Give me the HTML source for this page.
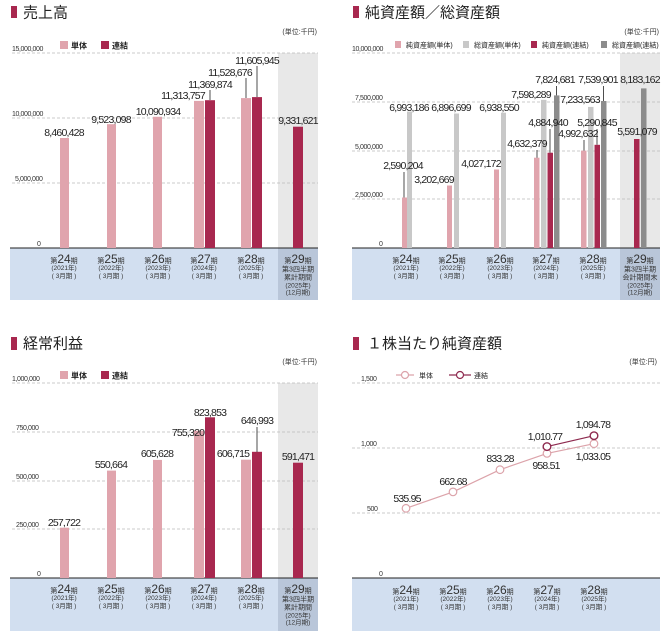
<!DOCTYPE html>
<html><head><meta charset="utf-8"><style>
html,body{margin:0;padding:0;background:#fff;}
svg{display:block;font-family:"Liberation Sans","Noto Sans CJK JP",sans-serif;}
.ax{font-size:7px;fill:#333;letter-spacing:-0.4px}
.v{font-size:10.5px;fill:#222;letter-spacing:-0.8px;text-anchor:middle}
.t{font-size:15px;fill:#222;font-weight:normal}
.u{font-size:7px;fill:#333;text-anchor:end}
.lg{font-size:8px;fill:#222;font-weight:bold}
.lg2{font-size:7px;fill:#222}
.c{text-anchor:middle;fill:#333}
.g{stroke:#bbb;stroke-width:0.8;stroke-dasharray:3,2}
.ld{stroke:#222;stroke-width:0.8}
</style></head><body>
<svg width="668" height="643" viewBox="0 0 668 643">

<!-- ===== Panel 1 ===== -->
<rect x="11" y="6" width="6" height="12" fill="#a8284f"/>
<text x="23" y="17.5" class="t">売上高</text>
<text x="317" y="34" class="u">(単位:千円)</text>
<rect x="60" y="41" width="8" height="8" fill="#e0a4ad"/><text x="71" y="48.5" class="lg">単体</text>
<rect x="101" y="41" width="8" height="8" fill="#a8284f"/><text x="112" y="48.5" class="lg">連結</text>
<rect x="278" y="53" width="40" height="195" fill="#e8e8e8"/>
<line x1="12" y1="53" x2="318" y2="53" class="g"/>
<line x1="12" y1="118" x2="318" y2="118" class="g"/>
<line x1="12" y1="183" x2="318" y2="183" class="g"/>
<text x="12" y="51" class="ax">15,000,000</text>
<text x="12" y="116" class="ax">10,000,000</text>
<text x="15" y="181" class="ax">5,000,000</text>
<text x="37" y="246" class="ax">0</text>
<rect x="10" y="248" width="268" height="52" fill="#d2dff0"/>
<rect x="278" y="248" width="40" height="52" fill="#b9c6d9"/>
<line x1="10" y1="248" x2="318" y2="248" stroke="#222" stroke-width="1"/>
<rect x="60" y="138" width="9" height="110" fill="#e0a4ad"/>
<rect x="107" y="124.2" width="9" height="123.8" fill="#e0a4ad"/>
<rect x="153" y="116.8" width="9" height="131.2" fill="#e0a4ad"/>
<rect x="194" y="100.9" width="10" height="147.1" fill="#e0a4ad"/>
<rect x="205" y="100.2" width="10" height="147.8" fill="#a8284f"/>
<rect x="241" y="98.1" width="10" height="149.9" fill="#e0a4ad"/>
<rect x="252" y="97.1" width="10" height="150.9" fill="#a8284f"/>
<rect x="293" y="126.7" width="10" height="121.3" fill="#a8284f"/>
<line x1="210" y1="90" x2="210" y2="100" class="ld"/>
<line x1="246" y1="78" x2="246" y2="98" class="ld"/>
<line x1="257" y1="66" x2="257" y2="97" class="ld"/>
<text x="64" y="136" class="v">8,460,428</text>
<text x="111" y="123" class="v">9,523,098</text>
<text x="158" y="115" class="v">10,090,934</text>
<text x="183" y="99" class="v">11,313,757</text>
<text x="210" y="88" class="v">11,369,874</text>
<text x="230" y="76" class="v">11,528,676</text>
<text x="257" y="64" class="v">11,605,945</text>
<text x="298" y="124" class="v">9,331,621</text>

<!-- ===== Panel 2 ===== -->
<rect x="353" y="6" width="6" height="12" fill="#a8284f"/>
<text x="365" y="17.5" class="t">純資産額／総資産額</text>
<text x="659" y="34" class="u">(単位:千円)</text>
<rect x="395" y="41" width="6" height="7" fill="#e0a4ad"/><text x="406" y="47.5" class="lg2">純資産額(単体)</text>
<rect x="463" y="41" width="6" height="7" fill="#c8c8c8"/><text x="474" y="47.5" class="lg2">総資産額(単体)</text>
<rect x="531" y="41" width="6" height="7" fill="#a8284f"/><text x="542" y="47.5" class="lg2">純資産額(連結)</text>
<rect x="601" y="41" width="6" height="7" fill="#8c8c8c"/><text x="612" y="47.5" class="lg2">総資産額(連結)</text>
<rect x="620" y="53" width="40" height="195" fill="#e8e8e8"/>
<line x1="352" y1="53" x2="660" y2="53" class="g"/>
<line x1="352" y1="102" x2="660" y2="102" class="g"/>
<line x1="352" y1="151" x2="660" y2="151" class="g"/>
<line x1="352" y1="199" x2="660" y2="199" class="g"/>
<text x="352" y="51" class="ax">10,000,000</text>
<text x="355" y="100" class="ax">7,500,000</text>
<text x="355" y="149" class="ax">5,000,000</text>
<text x="355" y="197" class="ax">2,500,000</text>
<text x="379" y="246" class="ax">0</text>
<rect x="352" y="248" width="268" height="52" fill="#d2dff0"/>
<rect x="620" y="248" width="40" height="52" fill="#b9c6d9"/>
<line x1="352" y1="248" x2="660" y2="248" stroke="#222" stroke-width="1"/>
<rect x="402" y="197.5" width="5" height="50.5" fill="#e0a4ad"/>
<rect x="407" y="111.6" width="5" height="136.4" fill="#c8c8c8"/>
<rect x="447" y="185.5" width="5" height="62.5" fill="#e0a4ad"/>
<rect x="454" y="113.5" width="5" height="134.5" fill="#c8c8c8"/>
<rect x="494" y="169.5" width="5" height="78.5" fill="#e0a4ad"/>
<rect x="501" y="112.7" width="5" height="135.3" fill="#c8c8c8"/>
<rect x="534" y="157.7" width="5.5" height="90.3" fill="#e0a4ad"/>
<rect x="541" y="99.8" width="5.5" height="148.2" fill="#c8c8c8"/>
<rect x="547.5" y="152.7" width="5.5" height="95.3" fill="#a8284f"/>
<rect x="554" y="95.4" width="5.5" height="152.6" fill="#8c8c8c"/>
<rect x="581" y="150.6" width="5.5" height="97.4" fill="#e0a4ad"/>
<rect x="588" y="106.9" width="5.5" height="141.1" fill="#c8c8c8"/>
<rect x="594.5" y="144.8" width="5.5" height="103.2" fill="#a8284f"/>
<rect x="601" y="101" width="5.5" height="147" fill="#8c8c8c"/>
<rect x="634" y="139" width="5.5" height="109" fill="#a8284f"/>
<rect x="641" y="88.4" width="5.5" height="159.6" fill="#8c8c8c"/>
<line x1="404" y1="172" x2="404" y2="197.5" class="ld"/>
<line x1="556.5" y1="86" x2="556.5" y2="95.4" class="ld"/>
<line x1="550" y1="129" x2="550" y2="152.7" class="ld"/>
<line x1="537" y1="150" x2="537" y2="157.7" class="ld"/>
<line x1="603.5" y1="86" x2="603.5" y2="101" class="ld"/>
<line x1="597" y1="129" x2="597" y2="144.8" class="ld"/>
<line x1="584" y1="140" x2="584" y2="150.6" class="ld"/>
<text x="409" y="111" class="v">6,993,186</text>
<text x="403" y="169" class="v">2,590,204</text>
<text x="451" y="111" class="v">6,896,699</text>
<text x="434" y="183" class="v">3,202,669</text>
<text x="499" y="111" class="v">6,938,550</text>
<text x="481" y="167" class="v">4,027,172</text>
<text x="531" y="98" class="v">7,598,289</text>
<text x="555" y="83" class="v">7,824,681</text>
<text x="548" y="126" class="v">4,884,940</text>
<text x="527" y="147" class="v">4,632,379</text>
<text x="598" y="83" class="v">7,539,901</text>
<text x="580" y="103" class="v">7,233,563</text>
<text x="597" y="126" class="v">5,290,845</text>
<text x="578" y="137" class="v">4,992,632</text>
<text x="640" y="83" class="v">8,183,162</text>
<text x="637" y="135" class="v">5,591,079</text>

<!-- ===== Panel 3 ===== -->
<rect x="11" y="337" width="6" height="13" fill="#a8284f"/>
<text x="23" y="348.5" class="t">経常利益</text>
<text x="317" y="364" class="u">(単位:千円)</text>
<rect x="60" y="371" width="8" height="8" fill="#e0a4ad"/><text x="71" y="378.5" class="lg">単体</text>
<rect x="101" y="371" width="8" height="8" fill="#a8284f"/><text x="112" y="378.5" class="lg">連結</text>
<rect x="278" y="383" width="40" height="195" fill="#e8e8e8"/>
<line x1="12" y1="383" x2="318" y2="383" class="g"/>
<line x1="12" y1="432" x2="318" y2="432" class="g"/>
<line x1="12" y1="481" x2="318" y2="481" class="g"/>
<line x1="12" y1="529" x2="318" y2="529" class="g"/>
<text x="12" y="381" class="ax">1,000,000</text>
<text x="16" y="430" class="ax">750,000</text>
<text x="16" y="479" class="ax">500,000</text>
<text x="16" y="527" class="ax">250,000</text>
<text x="37" y="576" class="ax">0</text>
<rect x="10" y="578" width="268" height="53" fill="#d2dff0"/>
<rect x="278" y="578" width="40" height="53" fill="#b9c6d9"/>
<line x1="10" y1="578" x2="318" y2="578" stroke="#222" stroke-width="1"/>
<rect x="60" y="527.7" width="9" height="50.3" fill="#e0a4ad"/>
<rect x="107" y="470.6" width="9" height="107.4" fill="#e0a4ad"/>
<rect x="153" y="459.9" width="9" height="118.1" fill="#e0a4ad"/>
<rect x="194" y="430.7" width="10" height="147.3" fill="#e0a4ad"/>
<rect x="205" y="417.3" width="10" height="160.7" fill="#a8284f"/>
<rect x="241" y="459.7" width="10" height="118.3" fill="#e0a4ad"/>
<rect x="252" y="451.8" width="10" height="126.2" fill="#a8284f"/>
<rect x="293" y="462.7" width="10" height="115.3" fill="#a8284f"/>
<line x1="257" y1="427" x2="257" y2="452" class="ld"/>
<text x="64" y="526" class="v">257,722</text>
<text x="111" y="468" class="v">550,664</text>
<text x="157" y="457" class="v">605,628</text>
<text x="188" y="436" class="v">755,320</text>
<text x="210" y="416" class="v">823,853</text>
<text x="233" y="457" class="v">606,715</text>
<text x="257" y="424" class="v">646,993</text>
<text x="298" y="460" class="v">591,471</text>

<!-- ===== Panel 4 ===== -->
<rect x="353" y="337" width="6" height="13" fill="#a8284f"/>
<text x="367" y="348.5" class="t">１株当たり純資産額</text>
<text x="657" y="364" class="u">(単位:円)</text>
<line x1="396" y1="375" x2="414" y2="375" stroke="#dca3aa" stroke-width="1.2"/>
<circle cx="405" cy="375" r="3.5" fill="#fff" stroke="#dca3aa" stroke-width="1.2"/>
<text x="419" y="378" class="lg2" font-size="8">単体</text>
<line x1="449" y1="375" x2="471" y2="375" stroke="#8e2a4f" stroke-width="1.2"/>
<circle cx="460" cy="375" r="3.5" fill="#fff" stroke="#8e2a4f" stroke-width="1.2"/>
<text x="474" y="378" class="lg2" font-size="8">連結</text>
<line x1="352" y1="383" x2="660" y2="383" class="g"/>
<line x1="352" y1="448" x2="660" y2="448" class="g"/>
<line x1="352" y1="513" x2="660" y2="513" class="g"/>
<text x="361" y="381" class="ax" font-size="8">1,500</text>
<text x="361" y="446" class="ax" font-size="8">1,000</text>
<text x="367" y="511" class="ax" font-size="8">500</text>
<text x="379" y="576" class="ax" font-size="8">0</text>
<rect x="352" y="578" width="308" height="53" fill="#d2dff0"/>
<line x1="352" y1="578" x2="660" y2="578" stroke="#222" stroke-width="1"/>
<polyline points="406,508.3 453,491.9 500,469.7 547,453.4 594,443.7" fill="none" stroke="#dca3aa" stroke-width="1.2"/>
<polyline points="547,446.6 594,435.7" fill="none" stroke="#8e2a4f" stroke-width="1.2"/>
<g fill="#fff" stroke="#dca3aa" stroke-width="1.2">
<circle cx="406" cy="508.3" r="3.8"/><circle cx="453" cy="491.9" r="3.8"/><circle cx="500" cy="469.7" r="3.8"/><circle cx="547" cy="453.4" r="3.8"/><circle cx="594" cy="443.7" r="3.8"/>
</g>
<g fill="#fff" stroke="#8e2a4f" stroke-width="1.4">
<circle cx="547" cy="446.6" r="3.8"/><circle cx="594" cy="435.7" r="3.8"/>
</g>
<text x="407" y="502" class="v">535.95</text>
<text x="453" y="485" class="v">662.68</text>
<text x="500" y="462" class="v">833.28</text>
<text x="546" y="469" class="v">958.51</text>
<text x="593" y="460" class="v">1,033.05</text>
<text x="545" y="440" class="v">1,010.77</text>
<text x="593" y="428" class="v">1,094.78</text>

<!-- ===== Category labels ===== -->
<g font-size="6.5" fill="#333" text-anchor="middle">
<g transform="translate(64,263)"><text class="c"><tspan font-size="7">第</tspan><tspan font-size="12">24</tspan><tspan font-size="7">期</tspan></text><text y="7">(2021年)</text><text y="15">( 3月期 )</text></g>
<g transform="translate(111,263)"><text class="c"><tspan font-size="7">第</tspan><tspan font-size="12">25</tspan><tspan font-size="7">期</tspan></text><text y="7">(2022年)</text><text y="15">( 3月期 )</text></g>
<g transform="translate(158,263)"><text class="c"><tspan font-size="7">第</tspan><tspan font-size="12">26</tspan><tspan font-size="7">期</tspan></text><text y="7">(2023年)</text><text y="15">( 3月期 )</text></g>
<g transform="translate(204,263)"><text class="c"><tspan font-size="7">第</tspan><tspan font-size="12">27</tspan><tspan font-size="7">期</tspan></text><text y="7">(2024年)</text><text y="15">( 3月期 )</text></g>
<g transform="translate(251,263)"><text class="c"><tspan font-size="7">第</tspan><tspan font-size="12">28</tspan><tspan font-size="7">期</tspan></text><text y="7">(2025年)</text><text y="15">( 3月期 )</text></g>
<g transform="translate(298,263)"><text class="c"><tspan font-size="7">第</tspan><tspan font-size="12">29</tspan><tspan font-size="7">期</tspan></text><text y="8.5" font-size="7">第3四半期</text><text y="16.5" font-size="7">累計期間</text><text y="24.5">(2025年)</text><text y="31.5">(12月期)</text></g>
<g transform="translate(406,263)"><text class="c"><tspan font-size="7">第</tspan><tspan font-size="12">24</tspan><tspan font-size="7">期</tspan></text><text y="7">(2021年)</text><text y="15">( 3月期 )</text></g>
<g transform="translate(452,263)"><text class="c"><tspan font-size="7">第</tspan><tspan font-size="12">25</tspan><tspan font-size="7">期</tspan></text><text y="7">(2022年)</text><text y="15">( 3月期 )</text></g>
<g transform="translate(500,263)"><text class="c"><tspan font-size="7">第</tspan><tspan font-size="12">26</tspan><tspan font-size="7">期</tspan></text><text y="7">(2023年)</text><text y="15">( 3月期 )</text></g>
<g transform="translate(546,263)"><text class="c"><tspan font-size="7">第</tspan><tspan font-size="12">27</tspan><tspan font-size="7">期</tspan></text><text y="7">(2024年)</text><text y="15">( 3月期 )</text></g>
<g transform="translate(593,263)"><text class="c"><tspan font-size="7">第</tspan><tspan font-size="12">28</tspan><tspan font-size="7">期</tspan></text><text y="7">(2025年)</text><text y="15">( 3月期 )</text></g>
<g transform="translate(640,263)"><text class="c"><tspan font-size="7">第</tspan><tspan font-size="12">29</tspan><tspan font-size="7">期</tspan></text><text y="8.5" font-size="7">第3四半期</text><text y="16.5" font-size="7">会計期間末</text><text y="24.5">(2025年)</text><text y="31.5">(12月期)</text></g>
<g transform="translate(64,593)"><text class="c"><tspan font-size="7">第</tspan><tspan font-size="12">24</tspan><tspan font-size="7">期</tspan></text><text y="7">(2021年)</text><text y="15">( 3月期 )</text></g>
<g transform="translate(111,593)"><text class="c"><tspan font-size="7">第</tspan><tspan font-size="12">25</tspan><tspan font-size="7">期</tspan></text><text y="7">(2022年)</text><text y="15">( 3月期 )</text></g>
<g transform="translate(158,593)"><text class="c"><tspan font-size="7">第</tspan><tspan font-size="12">26</tspan><tspan font-size="7">期</tspan></text><text y="7">(2023年)</text><text y="15">( 3月期 )</text></g>
<g transform="translate(204,593)"><text class="c"><tspan font-size="7">第</tspan><tspan font-size="12">27</tspan><tspan font-size="7">期</tspan></text><text y="7">(2024年)</text><text y="15">( 3月期 )</text></g>
<g transform="translate(251,593)"><text class="c"><tspan font-size="7">第</tspan><tspan font-size="12">28</tspan><tspan font-size="7">期</tspan></text><text y="7">(2025年)</text><text y="15">( 3月期 )</text></g>
<g transform="translate(298,593)"><text class="c"><tspan font-size="7">第</tspan><tspan font-size="12">29</tspan><tspan font-size="7">期</tspan></text><text y="8.5" font-size="7">第3四半期</text><text y="16.5" font-size="7">累計期間</text><text y="24.5">(2025年)</text><text y="31.5">(12月期)</text></g>
<g transform="translate(406,594)"><text class="c"><tspan font-size="7">第</tspan><tspan font-size="12">24</tspan><tspan font-size="7">期</tspan></text><text y="7">(2021年)</text><text y="15">( 3月期 )</text></g>
<g transform="translate(453,594)"><text class="c"><tspan font-size="7">第</tspan><tspan font-size="12">25</tspan><tspan font-size="7">期</tspan></text><text y="7">(2022年)</text><text y="15">( 3月期 )</text></g>
<g transform="translate(500,594)"><text class="c"><tspan font-size="7">第</tspan><tspan font-size="12">26</tspan><tspan font-size="7">期</tspan></text><text y="7">(2023年)</text><text y="15">( 3月期 )</text></g>
<g transform="translate(547,594)"><text class="c"><tspan font-size="7">第</tspan><tspan font-size="12">27</tspan><tspan font-size="7">期</tspan></text><text y="7">(2024年)</text><text y="15">( 3月期 )</text></g>
<g transform="translate(594,594)"><text class="c"><tspan font-size="7">第</tspan><tspan font-size="12">28</tspan><tspan font-size="7">期</tspan></text><text y="7">(2025年)</text><text y="15">( 3月期 )</text></g>
</g>
</svg>
</body></html>
